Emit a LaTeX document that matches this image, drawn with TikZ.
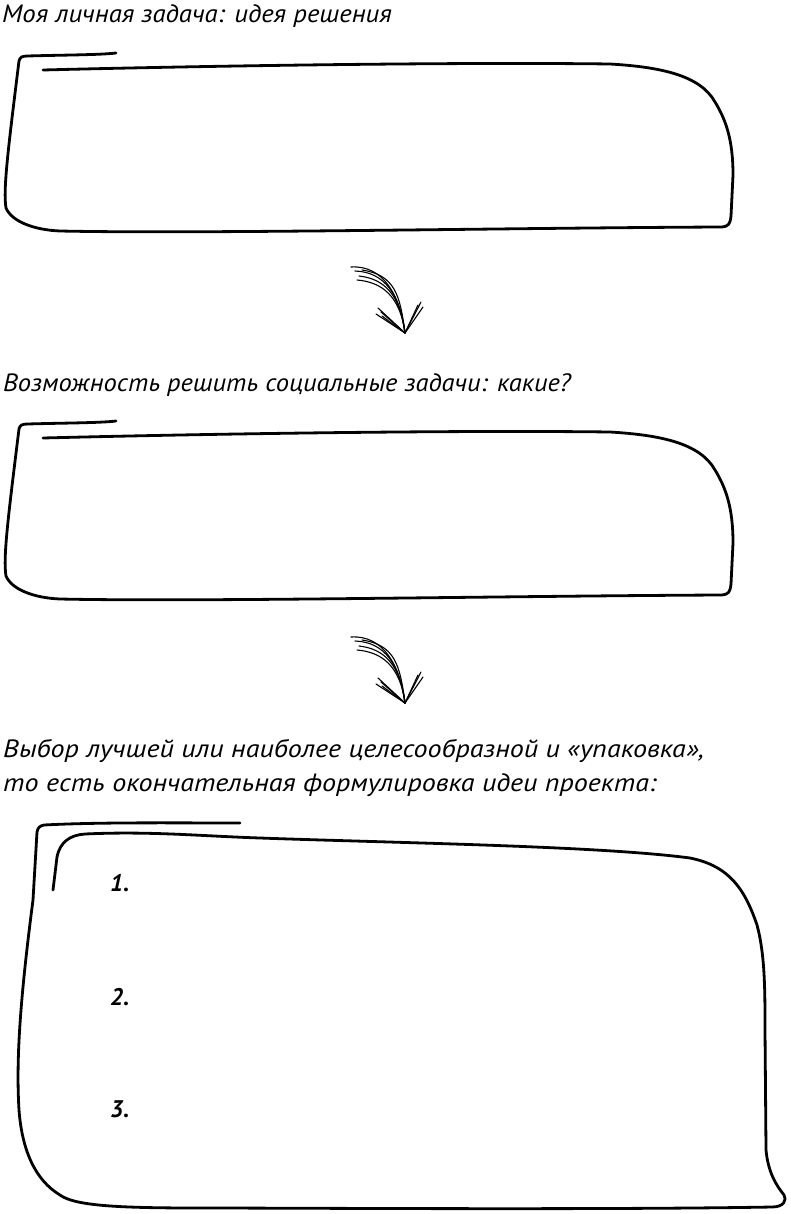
\documentclass[tikz,border=0pt]{standalone}
\usepackage{fontspec}
\setmainfont{PT Sans}
\begin{document}
\begin{tikzpicture}[x=1pt,y=-1pt,line cap=round,line join=round,
  sketch/.style={line width=2.8pt},
  thin/.style={line width=1.1pt},
  lbl/.style={anchor=base west,inner sep=0pt,font=\fontsize{25}{34}\selectfont\itshape\addfontfeature{FakeStretch=#1}},
  num/.style={anchor=base west,inner sep=0pt,font=\fontsize{24}{24}\selectfont\itshape\bfseries},
  smallbox/.pic={
    \draw[sketch] (43,70) .. controls (200,66) and (450,62) .. (610,64)
      .. controls (660,67) and (700,75) .. (715,102)
      .. controls (726,120) and (733,140) .. (733,175)
      -- (731,216) .. controls (730,224) and (729,226) .. (722,227)
      .. controls (500,228) and (200,234) .. (60,231)
      .. controls (35,230) and (12,222) .. (6,208)
      .. controls (3,190) and (8,150) .. (19,61)
      .. controls (20,57) and (22,56) .. (28,56)
      .. controls (60,55) and (100,55) .. (116,53);
  },
  sketcharrow/.pic={
    \coordinate (-s) at (357,272);
    \coordinate (-t) at (405,333);
    \foreach \dx/\dy/\cx/\cy in {-6/-5/32/-2, -2/-1/30/1, 2/4/26/3, 5/-2/33/5, 0/8/24/2}
      \draw[thin] ([shift={(\dx,\dy)}]-s) .. controls +(\cx,\cy) and +(-5,-38) .. (-t);
    \foreach \dx/\dy in {-3/-1, 0/3, -5/5, 1/7}
      \draw[thin] ([shift={(\dx,\dy)}]381,309) -- (-t);
    \foreach \dx/\dy in {0/-1, -3/2, 2/4}
      \draw[thin] ([shift={(\dx,\dy)}]421,303) -- (-t);
  }]
\useasboundingbox (0,0) rectangle (790,1214);

\node[lbl=1.072] (t1) at (2,23) {Моя личная задача: идея решения};
\pic (b1) at (0,0) {smallbox};
\pic (a1) at (0,0) {sketcharrow};

\node[lbl=1.061] (t2) at (3,391) {Возможность решить социальные задачи: какие?};
\pic (b2) at (0,368) {smallbox};
\pic (a2) at (0,370) {sketcharrow};

\node[lbl=1.122] (t3) at (3,757) {Выбор лучшей или наиболее целесообразной и «упаковка»,};
\node[lbl=1.122] (t4) at (3,791) {то есть окончательная формулировка идеи проекта:};

\draw[sketch] (53,890) -- (57,857) .. controls (60,842) and (70,835) .. (85,834)
  .. controls (150,831) and (200,836) .. (260,838)
  .. controls (400,843) and (600,846) .. (690,858)
  .. controls (730,866) and (745,890) .. (757,925)
  .. controls (765,955) and (765,990) .. (765,1030)
  -- (766,1150) .. controls (768,1172) and (776,1185) .. (784,1195)
  .. controls (787,1200) and (784,1207) .. (772,1207)
  .. controls (600,1210) and (300,1208) .. (200,1208)
  .. controls (120,1208) and (75,1206) .. (60,1195)
  .. controls (35,1180) and (22,1150) .. (19,1110)
  .. controls (16,1060) and (20,1000) .. (33,900)
  -- (37,832) .. controls (38,827) and (40,826) .. (44,825)
  .. controls (100,822) and (180,823) .. (240,823);

\node[num] (n1) at (110,891) {1.};
\node[num] (n2) at (110,1005) {2.};
\node[num] (n3) at (110,1117) {3.};
\end{tikzpicture}
\end{document}
